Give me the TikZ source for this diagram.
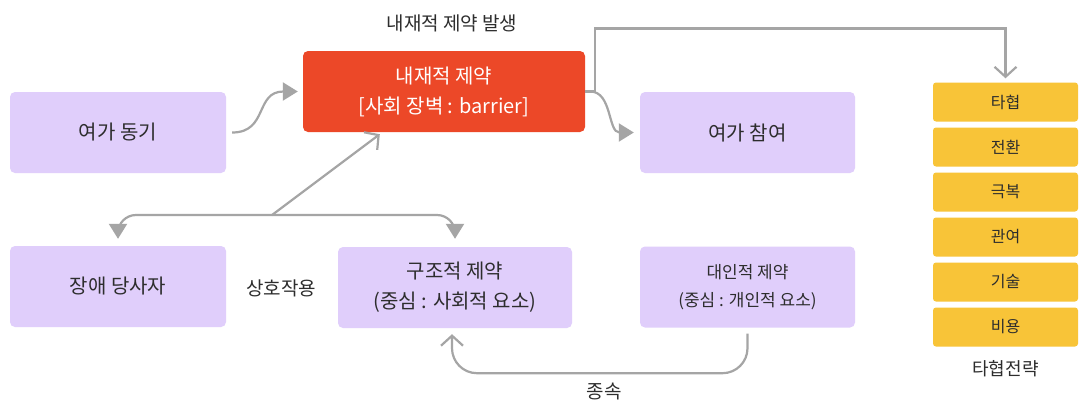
\documentclass[tikz,border=0pt]{standalone}
\usepackage{fontspec}
\setmainfont{Noto Sans CJK KR}
\usetikzlibrary{arrows.meta,calc}
\definecolor{lav}{RGB}{224,206,251}
\definecolor{redbox}{RGB}{236,72,40}
\definecolor{yel}{RGB}{248,196,56}
\definecolor{ln}{RGB}{165,165,165}
\definecolor{tx}{RGB}{45,45,45}
\begin{document}
\begin{tikzpicture}[x=1pt,y=-1pt,
  box/.style={fill=lav, rounded corners=5pt, minimum width=#1, minimum height=81pt,
    text=tx, align=center, inner sep=0pt, font=\fontsize{20}{30}\selectfont},
  ybox/.style={fill=yel, rounded corners=3pt, minimum width=145pt, minimum height=39pt,
    text=tx, inner sep=0pt, font=\fontsize{16}{20}\selectfont},
  lbl/.style={text=tx, inner sep=0pt, font=\fontsize{19}{22}\selectfont},
  conn/.style={draw=ln, line width=2.2pt},
  filled/.style={-{Triangle[length=15pt,width=18pt]}},
  barb/.style={-{Straight Barb[length=10pt,width=22pt,line width=2.2pt]}}]
\fill[white] (0,0) rectangle (1081,405);
\useasboundingbox (0,0) rectangle (1081,405);

% boxes
\node[box=216pt] (motive) at (118,132.5) {여가 동기};
\node[box=282pt, fill=redbox, text=white] (inner) at (444,91.5) {내재적 제약\\{[}사회 장벽 : barrier{]}};
\node[box=215pt] (part) at (747.5,132.5) {여가 참여};
\node[box=216pt] (person) at (118,286.5) {장애 당사자};
\node[box=234pt] (struct) at (455,287.5) {구조적 제약\\(중심 : 사회적 요소)};
\node[box=215pt, font=\fontsize{17}{28}\selectfont] (inter) at (747.5,287) {대인적 제약\\(중심 : 개인적 요소)};

% strategy column
\node[ybox] (s1) at (1005.5,102) {타협};
\node[ybox] (s2) at (1005.5,147) {전환};
\node[ybox] (s3) at (1005.5,192) {극복};
\node[ybox] (s4) at (1005.5,237) {관여};
\node[ybox] (s5) at (1005.5,282) {기술};
\node[ybox] (s6) at (1005.5,327) {비용};

% labels
\node[lbl] (lblInner) at (452,23) {내재적 제약 발생};
\node[lbl] (lblInter) at (281,288) {상호작용};
\node[lbl] (lblSub) at (604,392) {종속};
\node[lbl, font=\fontsize{18}{22}\selectfont] (lblStrat) at (1005.5,369) {타협전략};

% connectors
\draw[conn,filled] ($(motive.east)+(6,0)$) .. controls ($(motive.east)+(42,0)$) and ($(inner.west)+(-48,0)$) .. ($(inner.west)+(-5,0)$);
\draw[conn,filled] (inner.east) -- ++(5,0) .. controls ++(22,0) and ($(part.west)+(-32,0)$) .. ($(part.west)+(-6,0)$);
\draw[conn,barb] (inner.east) -- ++(10,0) -- ++(0,-63) -| ($(s1.north)+(0,-4)$);

\coordinate (J) at (272,215);
\draw[conn,filled,rounded corners=18pt] (J) -| ($(person.north)+(0,-7)$);
\draw[conn,filled,rounded corners=18pt] (J) -| ($(struct.north)+(0,-8)$);
\draw[conn,barb] (J) -- ($(inner.south west)+(77,2)$);

\draw[conn,barb,rounded corners=25pt] ($(inter.south)+(0,6)$) |- ($(struct.south)+(-3,45)$) -- ($(struct.south)+(-3,6)$);
\end{tikzpicture}
\end{document}
